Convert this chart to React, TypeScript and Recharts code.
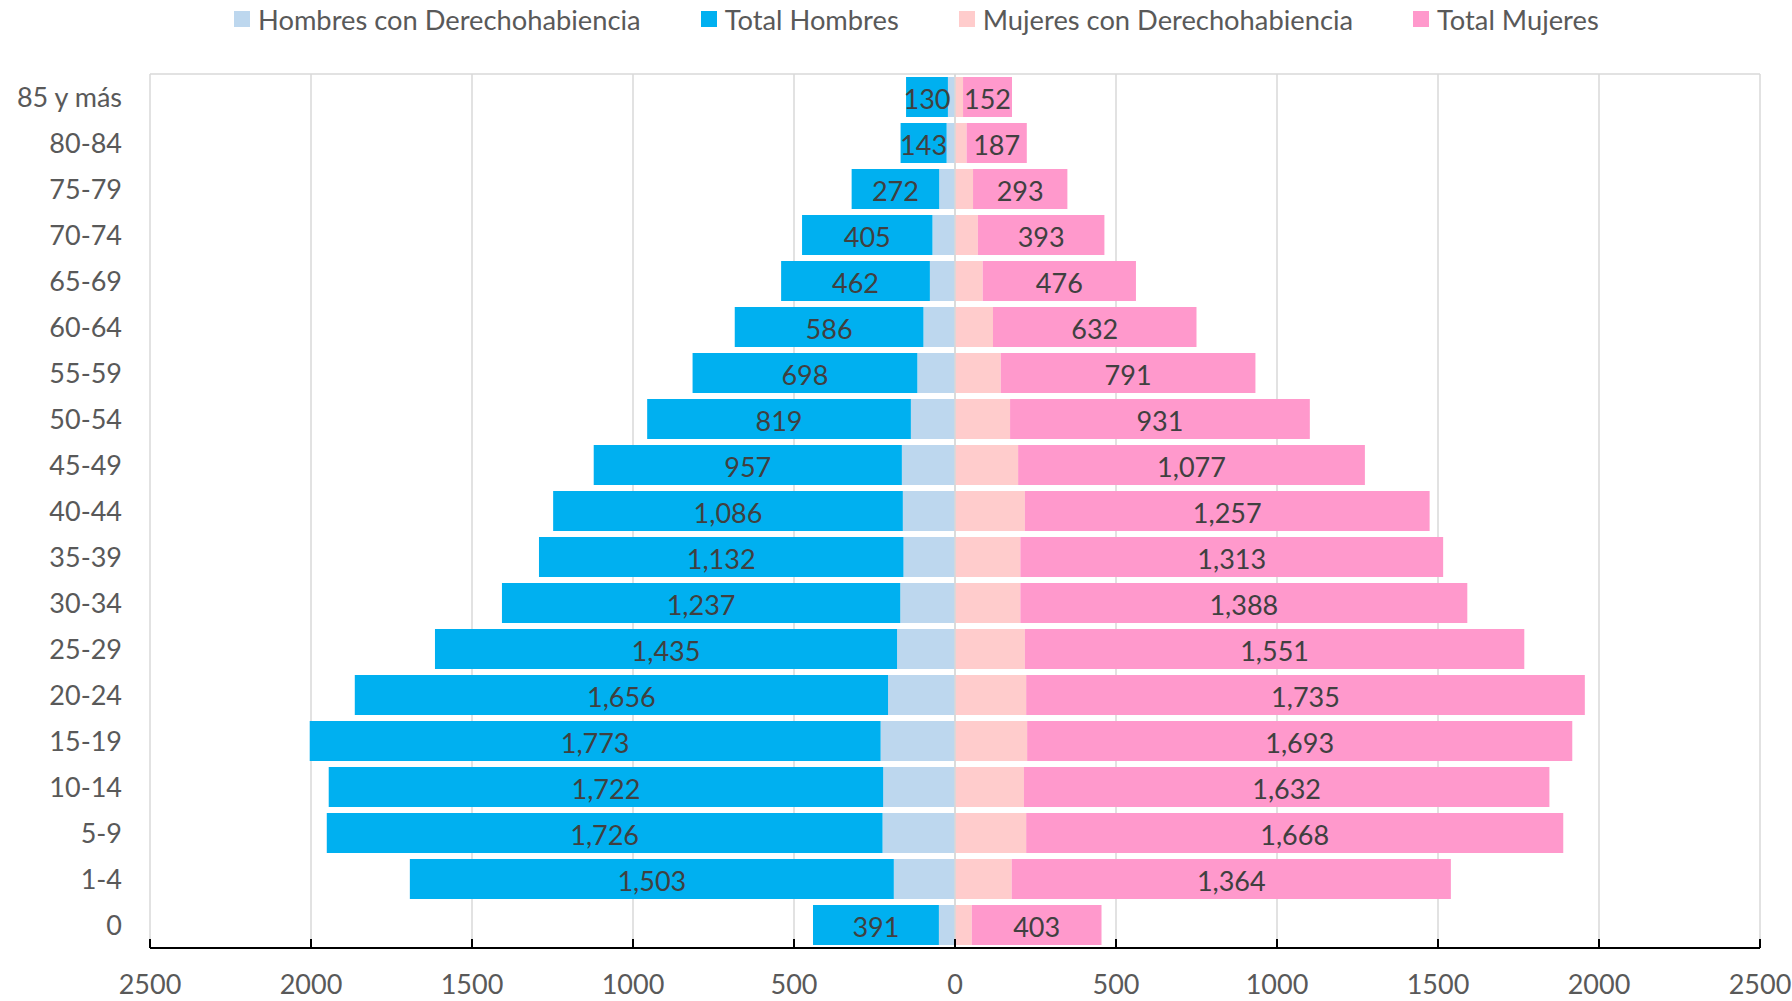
import React from 'react';
import { BarChart, Bar, XAxis, YAxis, CartesianGrid, Legend, LabelList, ReferenceLine } from 'recharts';

// age groups, bottom to top
const ageGroups = ['0', '1-4', '5-9', '10-14', '15-19', '20-24', '25-29', '30-34', '35-39', '40-44', '45-49', '50-54', '55-59', '60-64', '65-69', '70-74', '75-79', '80-84', '85 y más'];

const hombresDerecho = [50, 190, 225, 223, 231, 208, 180, 170, 160, 162, 165, 137, 117, 98, 78, 70, 49, 26, 22];
const totalHombres = [391, 1503, 1726, 1722, 1773, 1656, 1435, 1237, 1132, 1086, 957, 819, 698, 586, 462, 405, 272, 143, 130];
const mujeresDerecho = [52, 176, 221, 214, 224, 221, 217, 203, 203, 217, 196, 171, 142, 118, 86, 71, 56, 36, 25];
const totalMujeres = [403, 1364, 1668, 1632, 1693, 1735, 1551, 1388, 1313, 1257, 1077, 931, 791, 632, 476, 393, 293, 187, 152];

const xTicks = [-2500, -2000, -1500, -1000, -500, 0, 500, 1000, 1500, 2000, 2500];

const seriesInfo = [
    { key: 'hombresDer', name: 'Hombres con Derechohabiencia', color: '#BDD7EE' },
    { key: 'hombresTot', name: 'Total Hombres', color: '#00B0F0' },
    { key: 'mujeresDer', name: 'Mujeres con Derechohabiencia', color: '#FFCCCC' },
    { key: 'mujeresTot', name: 'Total Mujeres', color: '#FF99CC' },
];

const data = ageGroups.map((group, i) => ({
    group,
    hombresDer: -hombresDerecho[i],
    hombresTot: -totalHombres[i],
    mujeresDer: mujeresDerecho[i],
    mujeresTot: totalMujeres[i],
}));

const FONT = 'Lato, "Open Sans", sans-serif';
const fmt = (v: any) => Math.abs(Number(v)).toLocaleString('en-US');

const XTick = ({ x, y, payload }: any) => (
    <g>
        <line x1={x} x2={x} y1={y} y2={y - 9} stroke="#000" strokeWidth={2} />
        <text x={x} y={y} dy={46} textAnchor="middle" fill="#595959" fontSize={27} fontFamily={FONT}>
            {Math.abs(payload.value)}
        </text>
    </g>
);

const YTick = ({ x, y, payload }: any) => (
    <text x={x} y={y} dy="0.36em" textAnchor="end" fill="#595959" fontSize={27} fontFamily={FONT}>
        {payload.value}
    </text>
);

const LegendContent = () => (
    <div style={{ height: 38, display: 'flex', alignItems: 'center', paddingLeft: 234, fontFamily: FONT, fontSize: 27.3, color: '#595959' }}>
        {seriesInfo.map((s) => (
            <div key={s.key} style={{ display: 'flex', alignItems: 'center', marginRight: 60 }}>
                <span style={{ width: 16, height: 16, background: s.color, marginRight: 8, display: 'inline-block' }}></span>
                <span style={{ whiteSpace: 'nowrap' }}>{s.name}</span>
            </div>
        ))}
    </div>
);

export default function App() {
    return (
        <div style={{ position: 'absolute', left: 0, top: 0, background: '#fff' }}>
            <BarChart
                width={1792}
                height={1001}
                data={data}
                layout="vertical"
                stackOffset="sign"
                barCategoryGap={3}
                margin={{ top: 36, right: 32, left: 0, bottom: 3 }}
                style={{ fontFamily: FONT }}
            >
                <CartesianGrid
                    stroke="#D9D9D9"
                    strokeWidth={1.5}
                    horizontalCoordinatesGenerator={({ offset }: any) => [offset.top]}
                />
                <XAxis
                    type="number"
                    domain={[-2500, 2500]}
                    ticks={xTicks}
                    interval={0}
                    height={50}
                    tickSize={0}
                    tickMargin={0}
                    tickLine={false}
                    axisLine={{ stroke: '#000', strokeWidth: 2 }}
                    tick={<XTick />}
                />
                <YAxis
                    type="category"
                    dataKey="group"
                    reversed
                    width={150}
                    interval={0}
                    tickSize={0}
                    tickMargin={28}
                    tickLine={false}
                    axisLine={false}
                    tick={<YTick />}
                />
                <Legend verticalAlign="top" wrapperStyle={{ top: 0, left: 0, width: 1792 }} content={<LegendContent />} />
                {seriesInfo.map((s) => (
                    <Bar key={s.key} dataKey={s.key} name={s.name} stackId="a" fill={s.color} isAnimationActive={false}>
                        {(s.key === 'hombresTot' || s.key === 'mujeresTot') && (
                            <LabelList
                                dataKey={s.key}
                                position="center"
                                formatter={fmt}
                                fill="#404040"
                                fontSize={27}
                                fontFamily={FONT}
                                dy={2}
                            />
                        )}
                    </Bar>
                ))}
                <ReferenceLine x={0} stroke="#D9D9D9" strokeWidth={1.5} />
            </BarChart>
        </div>
    );
}
